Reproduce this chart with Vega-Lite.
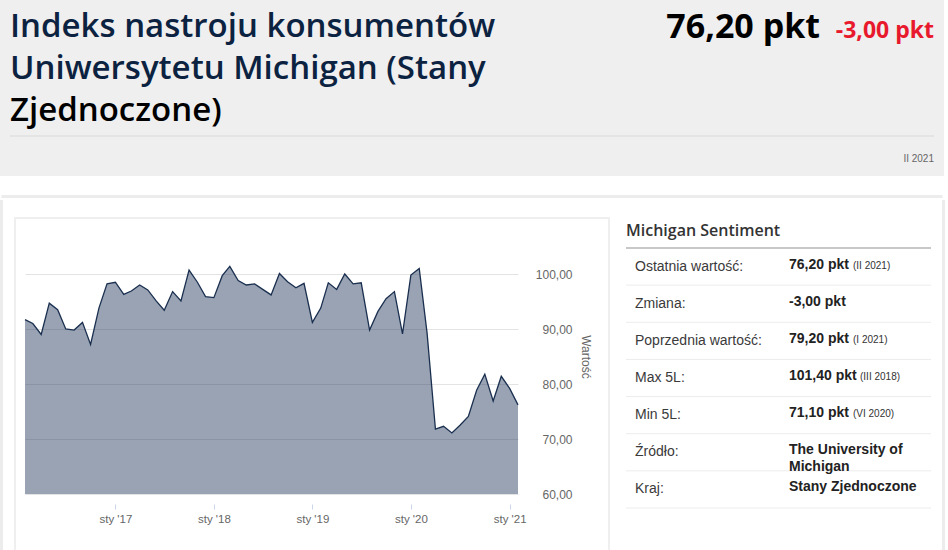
{
  "$schema": "https://vega.github.io/schema/vega-lite/v6.json",
  "background": "white",
  "padding": 0,
  "spacing": 0,
  "config": {
    "view": {"stroke": null},
    "font": "Liberation Sans"
  },
  "vconcat": [
    {
      "width": 919,
      "height": 176,
      "data": {
        "values": [
          {"part": "title", "text": ["Indeks nastroju konsumentów", "Uniwersytetu Michigan (Stany"]},
          {"part": "title2", "text": "Zjednoczone)"},
          {"part": "value", "text": "76,20 pkt"},
          {"part": "change", "text": "-3,00 pkt"},
          {"part": "period", "text": "II 2021"}
        ]
      },
      "layer": [
        {
          "data": {"values": [{}]},
          "mark": {"type": "rect", "color": "#efefef"},
          "encoding": {"x": {"value": -25}, "x2": {"value": 919}, "y": {"value": 0}, "y2": {"value": 176}}
        },
        {
          "transform": [{"filter": "datum.part == 'title'"}],
          "mark": {"type": "text", "align": "left", "baseline": "alphabetic", "font": "Open Sans", "fontSize": 33, "fontWeight": 600, "lineHeight": 42, "color": "#0c2241"},
          "encoding": {"text": {"field": "text"}, "x": {"value": -15}, "y": {"value": 37}}
        },
        {
          "transform": [{"filter": "datum.part == 'title2'"}],
          "mark": {"type": "text", "align": "left", "baseline": "alphabetic", "font": "Open Sans", "fontSize": 33, "fontWeight": 600, "color": "#000000"},
          "encoding": {"text": {"field": "text"}, "x": {"value": -15}, "y": {"value": 121}}
        },
        {
          "transform": [{"filter": "datum.part == 'value'"}],
          "mark": {"type": "text", "align": "right", "baseline": "alphabetic", "font": "Open Sans", "fontSize": 34, "fontWeight": "bold", "color": "#000000"},
          "encoding": {"text": {"field": "text"}, "x": {"value": 795}, "y": {"value": 38}}
        },
        {
          "transform": [{"filter": "datum.part == 'change'"}],
          "mark": {"type": "text", "align": "right", "baseline": "alphabetic", "font": "Open Sans", "fontSize": 23, "fontWeight": "bold", "color": "#e8192c"},
          "encoding": {"text": {"field": "text"}, "x": {"value": 909}, "y": {"value": 38}}
        },
        {
          "transform": [{"filter": "datum.part == 'period'"}],
          "mark": {"type": "text", "align": "right", "baseline": "alphabetic", "fontSize": 10, "color": "#666666"},
          "encoding": {"text": {"field": "text"}, "x": {"value": 909}, "y": {"value": 162}}
        },
        {
          "data": {"values": [{}]},
          "mark": {"type": "rule", "color": "#d9d9d9", "strokeWidth": 1},
          "encoding": {"y": {"value": 136}, "x": {"value": -15}, "x2": {"value": 909}}
        },
        {
          "data": {"values": [{}]},
          "mark": {"type": "rule", "color": "#ececec", "strokeWidth": 3},
          "encoding": {"y": {"value": 196.5}, "x": {"value": -23.5}, "x2": {"value": 917.5}}
        }
      ]
    },
    {
      "spacing": 15,
      "hconcat": [
        {
          "width": 493,
          "height": 275,
          "data": {
            "values": [
              {"date": "2016-02-01", "value": 91.7},
              {"date": "2016-03-01", "value": 91.0},
              {"date": "2016-04-01", "value": 89.0},
              {"date": "2016-05-01", "value": 94.7},
              {"date": "2016-06-01", "value": 93.5},
              {"date": "2016-07-01", "value": 90.0},
              {"date": "2016-08-01", "value": 89.8},
              {"date": "2016-09-01", "value": 91.2},
              {"date": "2016-10-01", "value": 87.2},
              {"date": "2016-11-01", "value": 93.8},
              {"date": "2016-12-01", "value": 98.2},
              {"date": "2017-01-01", "value": 98.5},
              {"date": "2017-02-01", "value": 96.3},
              {"date": "2017-03-01", "value": 96.9},
              {"date": "2017-04-01", "value": 98.0},
              {"date": "2017-05-01", "value": 97.1},
              {"date": "2017-06-01", "value": 95.1},
              {"date": "2017-07-01", "value": 93.4},
              {"date": "2017-08-01", "value": 96.8},
              {"date": "2017-09-01", "value": 95.1},
              {"date": "2017-10-01", "value": 100.7},
              {"date": "2017-11-01", "value": 98.5},
              {"date": "2017-12-01", "value": 95.9},
              {"date": "2018-01-01", "value": 95.7},
              {"date": "2018-02-01", "value": 99.7},
              {"date": "2018-03-01", "value": 101.4},
              {"date": "2018-04-01", "value": 98.8},
              {"date": "2018-05-01", "value": 98.0},
              {"date": "2018-06-01", "value": 98.2},
              {"date": "2018-07-01", "value": 97.2},
              {"date": "2018-08-01", "value": 96.2},
              {"date": "2018-09-01", "value": 100.1},
              {"date": "2018-10-01", "value": 98.6},
              {"date": "2018-11-01", "value": 97.5},
              {"date": "2018-12-01", "value": 98.3},
              {"date": "2019-01-01", "value": 91.2},
              {"date": "2019-02-01", "value": 93.8},
              {"date": "2019-03-01", "value": 98.4},
              {"date": "2019-04-01", "value": 97.2},
              {"date": "2019-05-01", "value": 100.0},
              {"date": "2019-06-01", "value": 98.2},
              {"date": "2019-07-01", "value": 98.4},
              {"date": "2019-08-01", "value": 89.8},
              {"date": "2019-09-01", "value": 93.2},
              {"date": "2019-10-01", "value": 95.5},
              {"date": "2019-11-01", "value": 96.8},
              {"date": "2019-12-01", "value": 89.1},
              {"date": "2020-01-01", "value": 99.8},
              {"date": "2020-02-01", "value": 101.0},
              {"date": "2020-03-01", "value": 89.3},
              {"date": "2020-04-01", "value": 71.8},
              {"date": "2020-05-01", "value": 72.3},
              {"date": "2020-06-01", "value": 71.1},
              {"date": "2020-07-01", "value": 72.5},
              {"date": "2020-08-01", "value": 74.1},
              {"date": "2020-09-01", "value": 78.9},
              {"date": "2020-10-01", "value": 81.8},
              {"date": "2020-11-01", "value": 76.9},
              {"date": "2020-12-01", "value": 81.4},
              {"date": "2021-01-01", "value": 79.2},
              {"date": "2021-02-01", "value": 76.2}
            ]
          },
          "encoding": {
            "x": {
              "field": "date",
              "type": "temporal",
              "scale": {
                "type": "utc",
                "domain": [
                  {"year": 2016, "month": 2, "date": 1, "utc": true},
                  {"year": 2021, "month": 2, "date": 1, "utc": true}
                ]
              },
              "axis": {
                "values": [
                  {"year": 2017, "month": 1, "date": 1, "utc": true},
                  {"year": 2018, "month": 1, "date": 1, "utc": true},
                  {"year": 2019, "month": 1, "date": 1, "utc": true},
                  {"year": 2020, "month": 1, "date": 1, "utc": true},
                  {"year": 2021, "month": 1, "date": 1, "utc": true}
                ],
                "labelExpr": "\"sty '\" + utcFormat(datum.value, '%y')",
                "domain": false,
                "grid": false,
                "offset": 10,
                "tickSize": 5,
                "tickColor": "#ccd6eb",
                "labelColor": "#666666",
                "labelFontSize": 11.5,
                "labelPadding": 4,
                "title": null
              }
            },
            "y": {
              "field": "value",
              "type": "quantitative",
              "scale": {"domain": [60, 110], "nice": false, "zero": false},
              "axis": {
                "orient": "right",
                "values": [60, 70, 80, 90, 100],
                "labelExpr": "replace(format(datum.value, '.2f'), '.', ',')",
                "labelAlign": "right",
                "labelBaseline": "middle",
                "labelPadding": 54,
                "ticks": false,
                "tickSize": 0,
                "domain": false,
                "grid": true,
                "gridColor": "#e3e3e3",
                "labelColor": "#666666",
                "labelFontSize": 12,
                "title": "Wartość",
                "titleColor": "#666666",
                "titleFontSize": 12,
                "titleFontWeight": "normal",
                "titlePadding": 6
              }
            }
          },
          "layer": [
            {
              "data": {"values": [{}]},
              "mark": {"type": "rule", "color": "#ececec", "strokeWidth": 3},
              "encoding": {"x": {"value": -23.5}, "y": {"value": -19}, "y2": {"value": 340}}
            },
            {
              "data": {"values": [{}]},
              "mark": {"type": "rect", "filled": false, "color": "#efefef", "strokeWidth": 2},
              "encoding": {"x": {"value": -10}, "x2": {"value": 584}, "y": {"value": -1}, "y2": {"value": 345}}
            },
            {
              "mark": {"type": "area", "color": "#1c3456", "fillOpacity": 0.45},
              "encoding": {"y2": {"datum": 60}}
            },
            {"mark": {"type": "line", "color": "#1a2f4f", "strokeWidth": 1.3}}
          ]
        },
        {
          "width": 305,
          "height": 289,
          "data": {
            "values": [
              {"label": "Ostatnia wartość:", "value": "76,20 pkt", "note": "(II 2021)"},
              {"label": "Zmiana:", "value": "-3,00 pkt"},
              {"label": "Poprzednia wartość:", "value": "79,20 pkt", "note": "(I 2021)"},
              {"label": "Max 5L:", "value": "101,40 pkt", "note": "(III 2018)"},
              {"label": "Min 5L:", "value": "71,10 pkt", "note": "(VI 2020)"},
              {"label": "Źródło:", "value": ["The University of", "Michigan"]},
              {"label": "Kraj:", "value": "Stany Zjednoczone"}
            ]
          },
          "layer": [
            {
              "data": {"values": [{}]},
              "mark": {"type": "rule", "color": "#ececec", "strokeWidth": 3},
              "encoding": {"x": {"value": 317.5}, "y": {"value": -19}, "y2": {"value": 340}}
            },
            {
              "mark": {"type": "rule", "color": "#ececec", "strokeWidth": 1},
              "encoding": {
                "y": {"field": "label", "type": "nominal", "sort": null, "bandPosition": 1, "axis": null, "scale": {"paddingInner": 0, "paddingOuter": 0, "range": [29, 289]}}
              }
            },
            {
              "data": {"values": [{}]},
              "mark": {"type": "rule", "color": "#c8c8c8", "strokeWidth": 2},
              "encoding": {
                "y": {"datum": "Ostatnia wartość:", "type": "nominal", "bandPosition": 0}
              }
            },
            {
              "data": {"values": [{"heading": "Michigan Sentiment"}]},
              "mark": {"type": "text", "align": "left", "baseline": "middle", "font": "Open Sans", "fontSize": 16, "fontWeight": 600, "color": "#333333"},
              "encoding": {
                "text": {"field": "heading"},
                "x": {"value": 0},
                "y": {"value": 12}
              }
            },
            {
              "mark": {"type": "text", "align": "left", "baseline": "middle", "fontSize": 14, "color": "#3a3a3a"},
              "encoding": {
                "text": {"field": "label"},
                "x": {"datum": "label", "type": "nominal", "scale": {"domain": ["label", "value"], "range": [9, 163], "padding": 0}, "axis": null},
                "y": {"field": "label", "type": "nominal", "sort": null}
              }
            },
            {
              "mark": {"type": "text", "align": "left", "baseline": "middle", "fontSize": 14, "fontWeight": "bold", "lineHeight": 17, "dy": -2, "color": "#222222"},
              "encoding": {
                "text": {"field": "value"},
                "x": {"datum": "value", "type": "nominal"},
                "y": {"field": "label", "type": "nominal", "sort": null}
              }
            },
            {
              "transform": [{"filter": "isValid(datum.note) && length(datum.value) == 9"}],
              "mark": {"type": "text", "align": "left", "baseline": "middle", "fontSize": 10, "dx": 64, "dy": -1, "color": "#333333"},
              "encoding": {
                "text": {"field": "note"},
                "x": {"datum": "value", "type": "nominal"},
                "y": {"field": "label", "type": "nominal", "sort": null}
              }
            },
            {
              "transform": [{"filter": "isValid(datum.note) && length(datum.value) == 10"}],
              "mark": {"type": "text", "align": "left", "baseline": "middle", "fontSize": 10, "dx": 71, "dy": -1, "color": "#333333"},
              "encoding": {
                "text": {"field": "note"},
                "x": {"datum": "value", "type": "nominal"},
                "y": {"field": "label", "type": "nominal", "sort": null}
              }
            }
          ]
        }
      ]
    }
  ]
}
